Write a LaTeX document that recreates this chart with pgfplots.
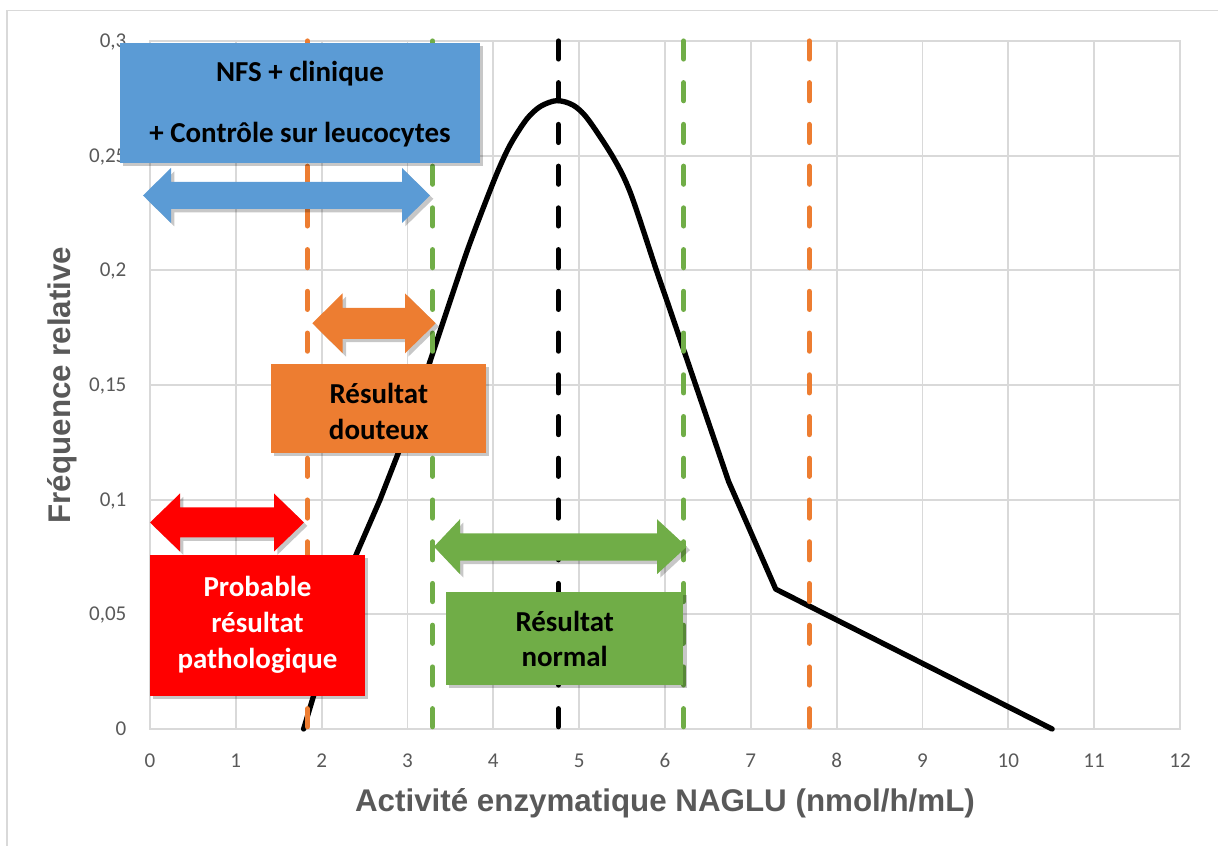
\documentclass[border=0pt]{standalone}
\usepackage{fontspec}
\setmainfont{Carlito}
\newfontfamily\arialfont{Liberation Sans}
\usepackage{pgfplots}
\pgfplotsset{compat=1.18}
\usetikzlibrary{shadows}
\definecolor{gridgray}{HTML}{D9D9D9}
\definecolor{tickgray}{HTML}{595959}
\definecolor{cblue}{HTML}{5B9BD5}
\definecolor{corange}{HTML}{ED7D31}
\definecolor{cgreen}{HTML}{70AD47}
\definecolor{cred}{HTML}{FF0000}
\newcommand{\boxfont}{\bfseries\fontsize{21.7}{27}\selectfont}
\begin{document}
\begin{tikzpicture}
\begin{scope}[x=0.75pt,y=-0.75pt,shift={(-112.5pt,546.75pt)}]
\path[use as bounding box] (0,0) rectangle (1218,846);
\draw[gridgray, line width=1.1pt] (7,10.5) rectangle (1240,870);
\end{scope}
\begin{axis}[
 scale only axis, width=772.5pt, height=516pt,
 xmin=0, xmax=12, ymin=0, ymax=0.3,
 xtick={0,1,...,12}, xticklabels={0,1,2,3,4,5,6,7,8,9,10,11,12},
 ytick={0,0.05,0.1,0.15,0.2,0.25,0.3},
 yticklabels={0,{0,05},{0,1},{0,15},{0,2},{0,25},{0,3}},
 grid=major, major grid style={draw=gridgray, line width=1.3pt},
 axis line style={draw=gridgray, line width=1.3pt},
 major tick length=0pt,
 tick label style={font=\fontsize{15.8}{18}\selectfont, text=tickgray, inner sep=0pt},
 xticklabel style={anchor=base, yshift=-29.25pt},
 yticklabel style={anchor=base east, xshift=-17.5pt, yshift=-4.9pt},
 xlabel={Activité enzymatique NAGLU (nmol/h/mL)},
 ylabel={Fréquence relative},
 label style={font=\arialfont\bfseries\fontsize{23.5}{27}\selectfont, text=tickgray, inner sep=0pt},
 xlabel style={at={(axis description cs:0.5,-0.1202)}, anchor=base},
 ylabel style={at={(axis description cs:-0.077,0.5)}, anchor=base},
 clip=false,
]
\addplot[black, line width=4pt, line join=round, line cap=round] coordinates {
(1.79,0) (2.39,0.075) (2.68,0.1) (2.91,0.122) (3.26,0.160)};
\addplot[black, line width=4pt, line join=round, line cap=round, smooth, tension=0.5] coordinates {
(3.26,0.160) (3.50,0.187) (3.70,0.209) (3.87,0.226) (4.05,0.243) (4.20,0.255)
(4.39,0.266) (4.55,0.2715) (4.74,0.274) (4.93,0.272) (5.10,0.266)
(5.40,0.249) (5.60,0.2335) (5.90,0.200) (6.02,0.187) (6.23,0.164)};
\addplot[black, line width=4pt, line join=round, line cap=round] coordinates {
(6.23,0.164) (6.74,0.108) (7.29,0.061) (10.51,0)};
\addplot[corange, line width=3.9pt, line cap=round, dash pattern=on 13.5pt off 17.8pt] coordinates {(1.833,0.3) (1.833,0)};
\addplot[cgreen, line width=3.9pt, line cap=round, dash pattern=on 13.5pt off 17.8pt] coordinates {(3.293,0.3) (3.293,0)};
\addplot[black, line width=3.9pt, line cap=round, dash pattern=on 13.5pt off 17.8pt] coordinates {(4.757,0.3) (4.757,0)};
\addplot[cgreen, line width=3.9pt, line cap=round, dash pattern=on 13.5pt off 17.8pt] coordinates {(6.218,0.3) (6.218,0)};
\addplot[corange, line width=3.9pt, line cap=round, dash pattern=on 13.5pt off 17.8pt] coordinates {(7.68,0.3) (7.68,0)};
\end{axis}
\begin{scope}[x=0.75pt,y=-0.75pt,shift={(-112.5pt,546.75pt)},
  sh/.style={drop shadow={shadow xshift=2.5pt, shadow yshift=-2.5pt, fill=black, opacity=0.22}}]
% blue
\fill[cblue, sh] (120,43) rectangle (480,163);
\node[anchor=base, inner sep=0pt, font=\boxfont] at (300,81.7) {NFS + clinique};
\node[anchor=base, inner sep=0pt, font=\boxfont] at (300,142.7) {+ Contrôle sur leucocytes};
\fill[cblue, sh] (143,195.5) -- (171,168) -- (171,182) -- (402,182) -- (402,168) -- (430,195.5) -- (402,223) -- (402,209) -- (171,209) -- (171,223) -- cycle;
% orange
\fill[corange, sh] (312.3,323.3) -- (342.7,293.3) -- (342.7,307.8) -- (405,307.8) -- (405,293.3) -- (435.7,323.3) -- (405,353.3) -- (405,338.8) -- (342.7,338.8) -- (342.7,353.3) -- cycle;
\fill[corange, sh] (271,364) rectangle (486,452.7);
\node[anchor=base, inner sep=0pt, font=\boxfont] at (378.8,404) {Résultat};
\node[anchor=base, inner sep=0pt, font=\boxfont] at (378.8,440) {douteux};
% red
\fill[cred, sh] (150,522.5) -- (180,493.5) -- (180,507.5) -- (274,507.5) -- (274,493.5) -- (304,522.5) -- (274,551.5) -- (274,537.5) -- (180,537.5) -- (180,551.5) -- cycle;
\fill[cred, sh] (150,555) rectangle (365,696);
\node[anchor=base, inner sep=0pt, font=\boxfont, text=white] at (257.5,596.7) {Probable};
\node[anchor=base, inner sep=0pt, font=\boxfont, text=white] at (257.5,632.7) {résultat};
\node[anchor=base, inner sep=0pt, font=\boxfont, text=white] at (257.5,668.5) {pathologique};
% green
\fill[cgreen, sh] (434,546.7) -- (460,519.2) -- (460,533.3) -- (657,533.3) -- (657,519.2) -- (686.7,546.7) -- (657,574.2) -- (657,560.7) -- (460,560.7) -- (460,574.2) -- cycle;
\fill[cgreen, sh] (446,591.7) rectangle (683.3,685);
\node[anchor=base, inner sep=0pt, font=\boxfont] at (564.7,631.7) {Résultat};
\node[anchor=base, inner sep=0pt, font=\boxfont] at (564.7,666.7) {normal};
\end{scope}
\end{tikzpicture}
\end{document}
